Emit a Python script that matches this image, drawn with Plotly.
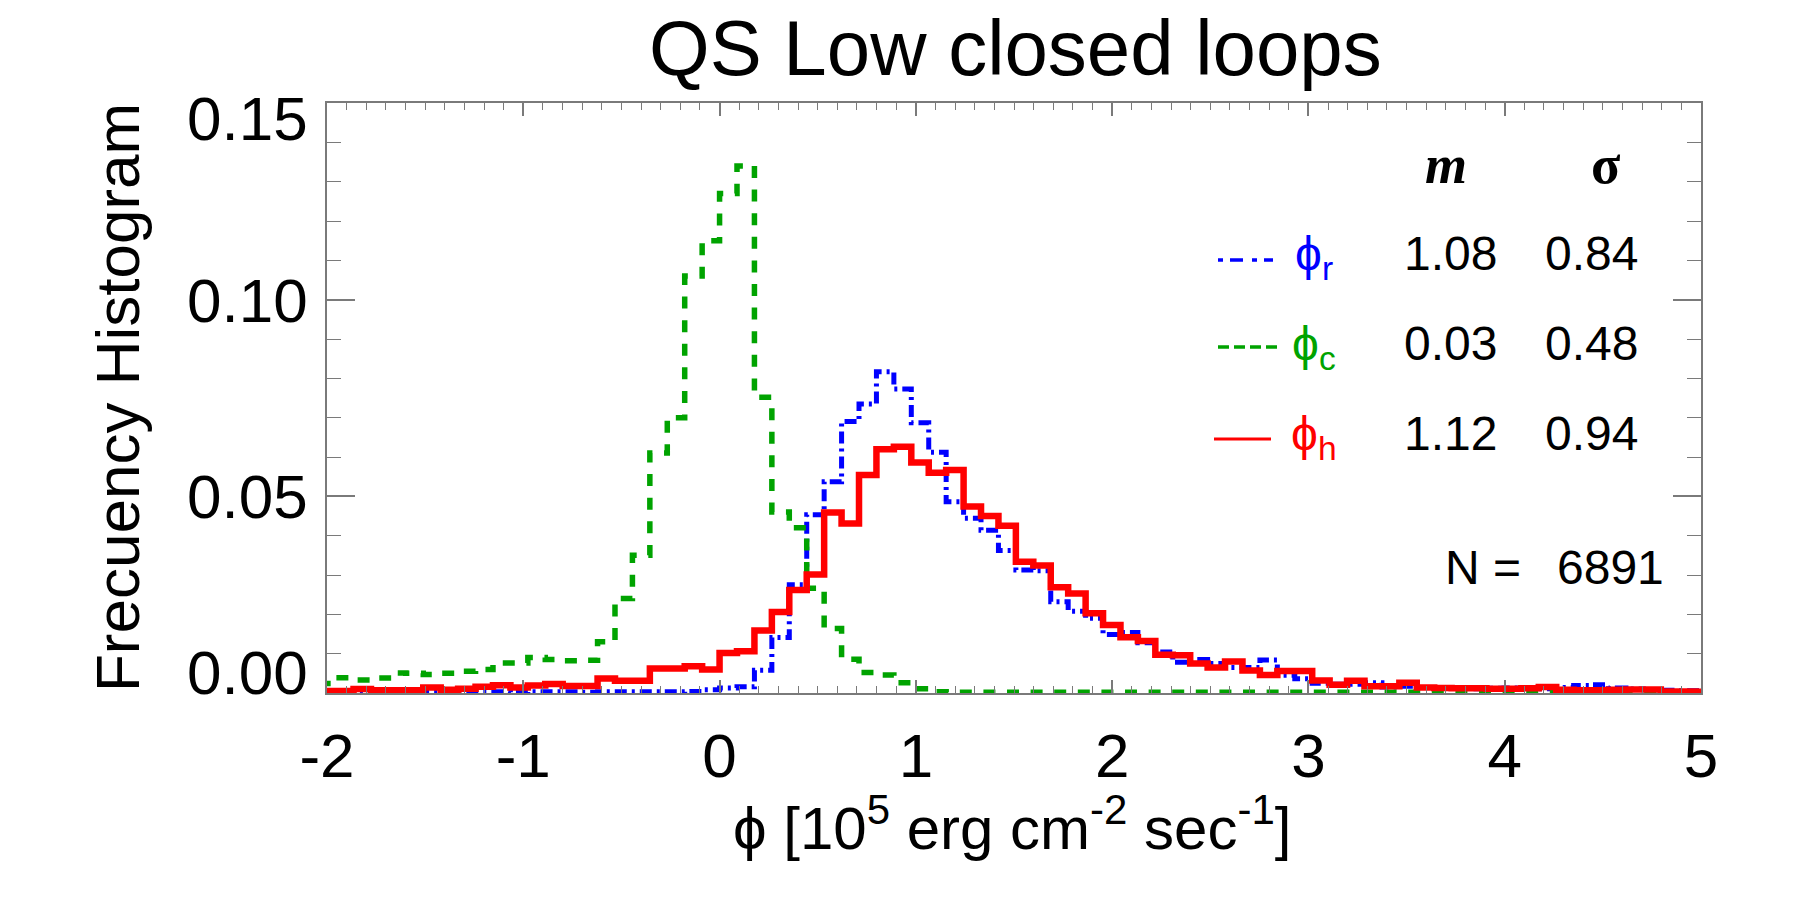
import plotly.graph_objects as go

# ---------------- data ----------------
BIN_WIDTH = 0.0888          # histogram bin width (phi units)
FIRST_BIN_INDEX = -23       # first bin starts at FIRST_BIN_INDEX * BIN_WIDTH

# phi_r (blue, dash-dot)
phi_r = [
    0.0003, 0.0002, 0.0003, 0.0003, 0.0002, 0.0003, 0.0003, 0.0002, 0.0003, 0.0003,
    0.0003, 0.0002, 0.0003, 0.0003, 0.0003, 0.0002, 0.0003, 0.0003, 0.0003, 0.0003,
    0.0003, 0.0004, 0.0008, 0.0013, 0.0016, 0.0058, 0.0141, 0.0275, 0.0453, 0.0537,
    0.0690, 0.0735, 0.0817, 0.0773, 0.0687, 0.0612, 0.0486, 0.0444, 0.0414, 0.0362,
    0.0313, 0.0311, 0.0232, 0.0208, 0.0190, 0.0149, 0.0154, 0.0128, 0.0104, 0.0078,
    0.0085, 0.0075, 0.0065, 0.0065, 0.0084, 0.0045, 0.0036, 0.0025, 0.0022, 0.0022,
    0.0026, 0.0015, 0.0017, 0.0014, 0.0013, 0.0012, 0.0011, 0.0012, 0.0013, 0.0012,
    0.0011, 0.0014, 0.0019, 0.0021, 0.0013, 0.0010, 0.0008, 0.0007, 0.0006, 0.0006,
]

# phi_c (green, dashed)
phi_c = [
    0.0024, 0.0039, 0.0033, 0.0038, 0.0051, 0.0050, 0.0047, 0.0050, 0.0055, 0.0060,
    0.0076, 0.0076, 0.0090, 0.0085, 0.0082, 0.0083, 0.0130, 0.0240, 0.0350, 0.0610,
    0.0700, 0.1060, 0.1150, 0.1270, 0.1340, 0.0752, 0.0460, 0.0420, 0.0266, 0.0164,
    0.0086, 0.0052, 0.0046, 0.0026, 0.0011, 0.0003, 0.0002, 0.0002, 0.0002, 0.0002,
    0.0002, 0.0002, 0.0002, 0.0002, 0.0002, 0.0002, 0.0002, 0.0002, 0.0002, 0.0002,
    0.0002, 0.0002, 0.0002, 0.0002, 0.0002, 0.0002, 0.0002, 0.0002, 0.0002, 0.0002,
    0.0002, 0.0002, 0.0002, 0.0002, 0.0002, 0.0002, 0.0002, 0.0002, 0.0002, 0.0002,
    0.0002, 0.0002, 0.0002, 0.0002, 0.0002, 0.0002, 0.0002, 0.0002, 0.0002, 0.0002,
]

# phi_h (red, solid)
phi_h = [
    0.0005, 0.0005, 0.0010, 0.0007, 0.0007, 0.0007, 0.0014, 0.0008, 0.0011, 0.0016,
    0.0020, 0.0014, 0.0019, 0.0023, 0.0018, 0.0018, 0.0037, 0.0031, 0.0031, 0.0062,
    0.0062, 0.0068, 0.0060, 0.0102, 0.0106, 0.0159, 0.0206, 0.0262, 0.0301, 0.0459,
    0.0431, 0.0554, 0.0620, 0.0626, 0.0586, 0.0560, 0.0567, 0.0474, 0.0450, 0.0425,
    0.0334, 0.0324, 0.0269, 0.0253, 0.0203, 0.0173, 0.0142, 0.0132, 0.0097, 0.0096,
    0.0075, 0.0065, 0.0080, 0.0057, 0.0046, 0.0056, 0.0056, 0.0032, 0.0021, 0.0031,
    0.0017, 0.0017, 0.0026, 0.0014, 0.0013, 0.0012, 0.0012, 0.0011, 0.0011, 0.0012,
    0.0015, 0.0008, 0.0007, 0.0007, 0.0008, 0.0009, 0.0009, 0.0004, 0.0004, 0.0003,
]

series_names = ["ϕ<sub>r</sub>", "ϕ<sub>c</sub>", "ϕ<sub>h</sub>"]
series_mean = ["1.08", "0.03", "1.12"]
series_sigma = ["0.84", "0.48", "0.94"]
N_TOTAL = "6891"

x_tick_vals = [-2, -1, 0, 1, 2, 3, 4, 5]
x_tick_text = ["-2", "-1", "0", "1", "2", "3", "4", "5"]
y_tick_vals = [0.0, 0.05, 0.10, 0.15]
y_tick_text = ["0.00", "0.05", "0.10", "0.15"]

TITLE = "QS Low closed loops"
X_TITLE = "ϕ [10<sup>5</sup> erg cm<sup>-2</sup> sec<sup>-1</sup>]"
Y_TITLE = "Frecuency Histogram"

# ---------------- styling ----------------
BLUE = "#0000ff"
GREEN = "#00a300"
RED = "#ff0000"
SANS = "Liberation Sans, Arial, Helvetica, sans-serif"
SERIF = "Liberation Serif, Times New Roman, serif"
AXC = "#7a7a7a"

W, H = 1800, 900
L, R, T, B = 327, 1701, 103, 693


def pxx(p):
    return (p - L) / (R - L)


def pxy(p):
    return (B - p) / (B - T)


def step_xy(vals):
    edges = [(FIRST_BIN_INDEX + i) * BIN_WIDTH for i in range(len(vals) + 1)]
    return edges, list(vals) + [vals[-1]]


fig = go.Figure()
styles = [
    (phi_r, BLUE, 5, "12px,5px,3px,5px"),
    (phi_c, GREEN, 5.5, "12px,11.6px"),
    (phi_h, RED, 6.5, "solid"),
]
for vals, col, wd, dash in styles:
    xs, ys = step_xy(vals)
    fig.add_trace(go.Scatter(x=xs, y=ys, mode="lines", line_shape="hv",
                             line=dict(color=col, width=wd, dash=dash),
                             showlegend=False, hoverinfo="skip"))

minor_x = [round(-2 + 0.1 * i, 2) for i in range(71) if i % 10 != 0]
minor_y = [round(0.01 * i, 2) for i in range(16) if i % 5 != 0]

fig.update_xaxes(range=[-2, 5], tickmode="array", tickvals=x_tick_vals, ticktext=x_tick_text,
                 ticks="inside", ticklen=13, tickwidth=1.5, tickcolor=AXC,
                 showline=True, linecolor=AXC, linewidth=1.5, mirror="ticks",
                 minor=dict(tickmode="array", tickvals=minor_x, ticks="inside", ticklen=7,
                            tickwidth=1.2, tickcolor=AXC),
                 tickfont=dict(family=SANS, size=62, color="black"),
                 ticklabelstandoff=8,
                 showgrid=False, zeroline=False)
fig.update_yaxes(range=[0, 0.15], tickmode="array", tickvals=y_tick_vals,
                 showticklabels=False,
                 ticks="inside", ticklen=28, tickwidth=1.5, tickcolor=AXC,
                 showline=True, linecolor=AXC, linewidth=1.5, mirror="ticks",
                 minor=dict(tickmode="array", tickvals=minor_y, ticks="inside", ticklen=14,
                            tickwidth=1.2, tickcolor=AXC),
                 showgrid=False, zeroline=False)

ann = []
# y tick labels (IDL style: end labels pulled inside the axis range)
y_label_pix = [672, 496, 300, 118]
for txt, yp in zip(y_tick_text, y_label_pix):
    ann.append(dict(text=txt, xref="paper", yref="paper", x=pxx(310), y=pxy(yp),
                    xanchor="right", yanchor="middle", showarrow=False,
                    font=dict(family=SANS, size=62, color="black")))

# titles
ann.append(dict(text=TITLE, xref="paper", yref="paper", x=pxx(1015), y=pxy(48),
                xanchor="center", yanchor="middle", showarrow=False,
                font=dict(family=SANS, size=78, color="black")))
ann.append(dict(text=X_TITLE, xref="paper", yref="paper", x=pxx(1012), y=pxy(824),
                xanchor="center", yanchor="middle", showarrow=False,
                font=dict(family=SANS, size=60, color="black")))
ann.append(dict(text=Y_TITLE, xref="paper", yref="paper", x=pxx(117), y=pxy(398),
                xanchor="center", yanchor="middle", showarrow=False, textangle=-90,
                font=dict(family=SANS, size=62, color="black")))

# legend table
ann.append(dict(text="<b><i>m</i></b>", xref="paper", yref="paper", x=pxx(1446), y=pxy(165),
                xanchor="center", yanchor="middle", showarrow=False,
                font=dict(family=SERIF, size=54, color="black")))
ann.append(dict(text="<b>σ</b>", xref="paper", yref="paper", x=pxx(1606), y=pxy(165),
                xanchor="center", yanchor="middle", showarrow=False,
                font=dict(family=SERIF, size=54, color="black")))

row_y = [253, 343, 433]
line_y = [260, 347, 439]
colors = [BLUE, GREEN, RED]
legend_dash = ["5px,7px,13px,9px", "11px,5px", "solid"]
line_x = [(1218, 1273), (1218, 1279), (1214, 1271)]
shapes = []
for i in range(3):
    ann.append(dict(text=series_names[i], xref="paper", yref="paper", x=pxx(1314), y=pxy(row_y[i] + 4),
                    xanchor="center", yanchor="middle", showarrow=False,
                    font=dict(family=SANS, size=48, color=colors[i])))
    ann.append(dict(text=series_mean[i], xref="paper", yref="paper", x=pxx(1450), y=pxy(row_y[i]),
                    xanchor="center", yanchor="middle", showarrow=False,
                    font=dict(family=SANS, size=48, color="black")))
    ann.append(dict(text=series_sigma[i], xref="paper", yref="paper", x=pxx(1591), y=pxy(row_y[i]),
                    xanchor="center", yanchor="middle", showarrow=False,
                    font=dict(family=SANS, size=48, color="black")))
    shapes.append(dict(type="line", xref="paper", yref="paper",
                       x0=pxx(line_x[i][0]), x1=pxx(line_x[i][1]),
                       y0=pxy(line_y[i]), y1=pxy(line_y[i]),
                       line=dict(color=colors[i], width=3.5 if i < 2 else 3, dash=legend_dash[i])))

ann.append(dict(text="N =", xref="paper", yref="paper", x=pxx(1443), y=pxy(567),
                xanchor="left", yanchor="middle", showarrow=False,
                font=dict(family=SANS, size=48, color="black")))
ann.append(dict(text=N_TOTAL, xref="paper", yref="paper", x=pxx(1666), y=pxy(567),
                xanchor="right", yanchor="middle", showarrow=False,
                font=dict(family=SANS, size=48, color="black")))

fig.update_layout(width=W, height=H, margin=dict(l=L, r=W - R, t=T, b=H - B),
                  plot_bgcolor="white", paper_bgcolor="white",
                  annotations=ann, shapes=shapes, showlegend=False)

fig.write_html("out.html")
